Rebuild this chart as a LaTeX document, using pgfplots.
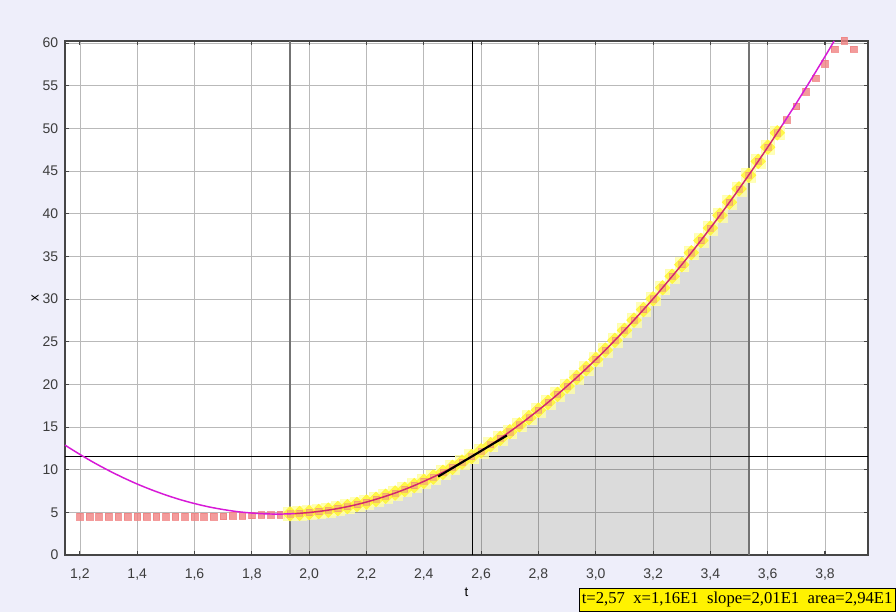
\documentclass[border=0pt]{standalone}
\usepackage{pgfplots}
\pgfplotsset{compat=1.18}
\usepackage{fontspec}
\setmainfont{Liberation Sans}
\newfontfamily\seriffont{Liberation Serif}
\definecolor{bgcol}{RGB}{238,238,250}
\definecolor{sqcol}{RGB}{240,130,130}
\definecolor{curvecol}{RGB}{215,25,215}
\definecolor{selcurve}{RGB}{210,40,110}
\definecolor{glowin}{RGB}{255,245,40}
\definecolor{glowout}{RGB}{255,255,170}
\definecolor{framecol}{RGB}{70,70,70}
\definecolor{labcol}{RGB}{60,60,60}
\begin{document}
\begin{tikzpicture}
\useasboundingbox (-48.75pt,-42.75pt) rectangle (623.25pt,416.25pt);
\fill[bgcol] (-48.75pt,-42.75pt) rectangle (623.25pt,416.25pt);
\begin{axis}[
  at={(0,0)}, anchor=south west,
  scale only axis, width=602.25pt, height=385.5pt,
  xmin=1.148, xmax=3.950, ymin=0, ymax=60.25,
  clip=false, clip marker paths=true,
  axis background/.style={fill=white},
  xtick={1.2,1.4,1.6,1.8,2.0,2.2,2.4,2.6,2.8,3.0,3.2,3.4,3.6,3.8},
  ytick={0,5,10,15,20,25,30,35,40,45,50,55,60},
  grid=major,
  major grid style={color=gray!55, line width=0.6pt},
  axis line style={color=framecol, line width=1.1pt},
  tick align=inside, major tick length=3pt,
  tick style={color=framecol, line width=0.8pt},
  /pgf/number format/assume math mode=true,
  tick label style={font=\fontsize{10.5}{12}\selectfont, color=labcol},
  x tick label style={/pgf/number format/.cd, fixed, fixed zerofill, precision=1, use comma, /tikz/.cd, yshift=-7pt},
  y tick label style={xshift=-1.5pt},
  xlabel={t}, ylabel={x},
  label style={font=\fontsize{10.5}{12}\selectfont, color=labcol},
  every axis x label/.style={at={(axis description cs:0.5,0)}, anchor=center, yshift=-27.75pt},
  every axis y label/.style={at={(axis description cs:0,0.5)}, anchor=center, xshift=-22.5pt, rotate=90},
]
% shaded area under the fitted curve
\addplot[draw=none, fill=black, fill opacity=0.14] coordinates {
(1.933,0) (1.933,4.83) (1.95,4.85) (2.00,4.98) (2.05,5.18) (2.10,5.45) (2.15,5.79) (2.20,6.21)
(2.25,6.71) (2.30,7.27) (2.35,7.91) (2.40,8.63) (2.45,9.41) (2.50,10.27) (2.55,11.21)
(2.60,12.21) (2.65,13.29) (2.70,14.45) (2.75,15.68) (2.80,16.98) (2.85,18.35) (2.90,19.80)
(2.95,21.32) (3.00,22.92) (3.05,24.59) (3.10,26.33) (3.15,28.15) (3.20,30.03) (3.25,32.00)
(3.30,34.03) (3.35,36.14) (3.40,38.33) (3.45,40.58) (3.50,42.91) (3.535,44.59) (3.535,0)
} -- cycle;
% bounds of the selection
\addplot[color=black!55, line width=1.5pt] coordinates {(1.933,0) (1.933,60.25)};
\addplot[color=black!55, line width=1.5pt] coordinates {(3.535,0) (3.535,60.25)};
% cursor cross
\addplot[black, line width=0.8pt] coordinates {(2.57,0) (2.57,60.25)};
\addplot[black, line width=0.8pt] coordinates {(1.148,11.6) (3.95,11.6)};
% unselected data
\addplot[only marks, color=sqcol, mark=square*, mark size=2.5pt, mark options={solid, fill=sqcol, draw=sqcol, opacity=0.8}] coordinates {
(1.2000,4.5) (1.2333,4.5) (1.2667,4.5) (1.3000,4.5) (1.3333,4.5) (1.3667,4.5) (1.4000,4.5)
(1.4333,4.5) (1.4667,4.5) (1.5000,4.5) (1.5333,4.5) (1.5667,4.5) (1.6000,4.5) (1.6333,4.5)
(1.6667,4.5) (1.7000,4.55) (1.7333,4.6) (1.7667,4.62) (1.8000,4.65) (1.8333,4.68)
(1.8667,4.7) (1.9000,4.72)
(3.6667,51.0) (3.7000,52.6) (3.7333,54.3) (3.7667,55.9) (3.8000,57.6) (3.8333,59.3)
(3.8667,60.3) (3.9000,59.3)
};
% selected data
\pgfplotstableread{
t x
1.9333 4.83
1.9667 4.88
2.0000 4.98
2.0333 5.10
2.0667 5.26
2.1000 5.45
2.1333 5.67
2.1667 5.92
2.2000 6.21
2.2333 6.53
2.2667 6.89
2.3000 7.27
2.3333 7.69
2.3667 8.14
2.4000 8.63
2.4333 9.14
2.4667 9.69
2.5000 10.27
2.5333 10.89
2.5667 11.53
2.6000 12.21
2.6333 12.93
2.6667 13.67
2.7000 14.45
2.7333 15.26
2.7667 16.10
2.8000 16.98
2.8333 17.89
2.8667 18.83
2.9000 19.80
2.9333 20.81
2.9667 21.85
3.0000 22.92
3.0333 24.02
3.0667 25.16
3.1000 26.33
3.1333 27.53
3.1667 28.77
3.2000 30.03
3.2333 31.33
3.2667 32.67
3.3000 34.03
3.3333 35.43
3.3667 36.86
3.4000 38.33
3.4333 39.82
3.4667 41.35
3.5000 42.91
3.5333 44.51
3.5667 46.14
3.6000 47.80
3.6333 49.49
}\seldata
% glow
\addplot[only marks, color=glowout, mark=square*, mark size=5.2pt, mark options={solid, fill=glowout, draw=glowout, opacity=0.8}] table[x=t, y=x] {\seldata};
\addplot[only marks, color=glowin, mark=square*, mark size=3.9pt, mark options={solid, fill=glowin, draw=glowin, rotate=45, opacity=0.75}] table[x=t, y=x] {\seldata};
% selected data squares
\addplot[only marks, color=sqcol, mark=square*, mark size=2.3pt, mark options={solid, fill=sqcol, draw=none, opacity=0.45}] table[x=t, y=x] {\seldata};
% fitted curve
\addplot[curvecol, line width=1.1pt, smooth] coordinates {
(1.148,12.88) (1.20,11.79) (1.25,10.81) (1.30,9.91) (1.35,9.08) (1.40,8.32) (1.45,7.64)
(1.50,7.03) (1.55,6.49) (1.60,6.03) (1.65,5.64) (1.70,5.33) (1.75,5.08) (1.80,4.92)
(1.85,4.82) (1.90,4.80) (1.95,4.85)};
\addplot[selcurve, line width=1.1pt, smooth] coordinates {
(1.95,4.85) (2.00,4.98) (2.05,5.18) (2.10,5.45) (2.15,5.79)
(2.20,6.21) (2.25,6.71) (2.30,7.27) (2.35,7.91) (2.40,8.63) (2.45,9.41) (2.50,10.27)
(2.55,11.21) (2.60,12.21) (2.65,13.29) (2.70,14.45) (2.75,15.68) (2.80,16.98) (2.85,18.35)
(2.90,19.80) (2.95,21.32) (3.00,22.92) (3.05,24.59) (3.10,26.33) (3.15,28.15) (3.20,30.03)
(3.25,32.00) (3.30,34.03) (3.35,36.14) (3.40,38.33) (3.45,40.58) (3.50,42.91) (3.55,45.32)
(3.60,47.80) (3.65,50.35)};
\addplot[curvecol, line width=1.1pt, smooth] coordinates {
(3.65,50.35) (3.70,52.97) (3.75,55.67) (3.80,58.44) (3.832,60.25)
};
% tangent
\addplot[black, line width=1.6pt] coordinates {(2.45,9.19) (2.69,14.01)};
\end{axis}
\node[anchor=south east, fill=yellow, draw=black, line width=0.6pt, inner xsep=1.5pt, inner ysep=1.2pt,
  minimum width=237pt, minimum height=17pt, font=\seriffont\fontsize{12.5}{14}\selectfont]
  at (622.9pt,-42.4pt) {t=2,57\ \ x=1,16E1\ \ slope=2,01E1\ \ area=2,94E1};
\end{tikzpicture}
\end{document}
